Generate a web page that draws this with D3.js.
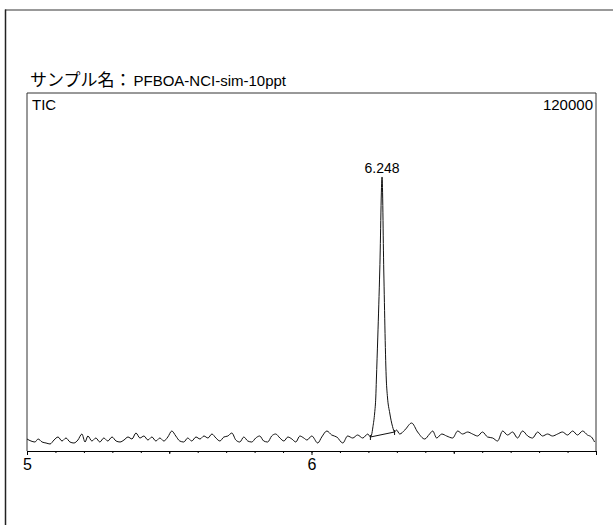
<!DOCTYPE html>
<html>
<head>
<meta charset="utf-8">
<script src="https://cdn.jsdelivr.net/npm/d3@7"></script>
<style>
  body { margin: 0; background: #fff; }
  svg { display: block; }
</style>
</head>
<body>
<svg></svg>
<script>
var width = 613;
var height = 525;

var sampleName = "PFBOA-NCI-sim-10ppt";
var traceLabel = "TIC";
var fullScale = 120000;
var peakTime = 6.248;

// retention time (min) and intensity
var times = [
  5.000, 5.014, 5.028, 5.039, 5.053, 5.067, 5.081, 5.095, 5.109, 5.123,
  5.137, 5.151, 5.165, 5.179, 5.193, 5.204, 5.214, 5.228, 5.242, 5.256,
  5.270, 5.284, 5.299, 5.313, 5.327, 5.341, 5.355, 5.369, 5.383, 5.397,
  5.411, 5.425, 5.439, 5.453, 5.467, 5.481, 5.495, 5.509, 5.523, 5.537,
  5.551, 5.565, 5.579, 5.594, 5.608, 5.622, 5.636, 5.650, 5.664, 5.678,
  5.692, 5.706, 5.720, 5.734, 5.748, 5.762, 5.776, 5.790, 5.804, 5.818,
  5.832, 5.846, 5.860, 5.874, 5.889, 5.903, 5.917, 5.931, 5.945, 5.959,
  5.973, 5.984, 6.001, 6.022, 6.036, 6.054, 6.071, 6.089, 6.110, 6.127,
  6.145, 6.162, 6.180, 6.198,
  6.207, 6.211, 6.216, 6.222, 6.226, 6.228, 6.233, 6.240, 6.248, 6.254,
  6.263, 6.267, 6.275, 6.285, 6.292,
  6.299, 6.310, 6.328, 6.352, 6.373, 6.398, 6.415, 6.426, 6.440, 6.458,
  6.475, 6.496, 6.514, 6.531, 6.549, 6.566, 6.584, 6.601, 6.619, 6.637,
  6.654, 6.672, 6.689, 6.707, 6.724, 6.742, 6.760, 6.777, 6.795, 6.812,
  6.830, 6.847, 6.865, 6.882, 6.900, 6.918, 6.935, 6.953, 6.970, 6.984,
  6.995
];

var intensity = [
  4020, 3350, 3015, 4020, 3015, 2680, 2350, 3685, 4690, 3350,
  4355, 3015, 2680, 3685, 5695, 3015, 5025, 3350, 4355, 3015,
  4355, 3350, 4690, 3350, 3015, 3685, 4690, 4020, 6030, 4355,
  5025, 3685, 4690, 3350, 4355, 3350, 4690, 6700, 5025, 3350,
  3015, 4355, 3350, 4690, 4020, 5025, 4355, 5695, 4355, 3350,
  4690, 5025, 6030, 3685, 3015, 4690, 3350, 3015, 4355, 5025,
  3350, 3015, 5025, 5695, 4355, 3350, 4690, 4020, 3015, 5025,
  4355, 3685, 5025, 2680, 4690, 6700, 5360, 4690, 2680, 5025,
  4355, 5360, 4355, 5695,
  4690, 5360, 8150, 12740, 18100, 23800, 38200, 60670, 91850, 60670,
  23800, 18100, 12740, 8150, 6370,
  7035, 5695, 7035, 9380, 6365, 4020, 5695, 6700, 4355, 5695,
  5025, 4355, 6700, 5695, 6365, 5695, 5025, 6365, 4690, 4355,
  3350, 6700, 5360, 6365, 4355, 6700, 5025, 4355, 6365, 5025,
  5695, 5025, 5695, 6365, 5360, 6700, 5360, 6700, 5360, 4690,
  3015
];

// integration baseline under the peak
var baseStart = [6.207, 4690];
var baseEnd = [6.292, 6370];

var majorTicks = [5, 6, 7];
var halfTicks = [5.5, 6.5];
var minorTicks = d3.range(50, 71).map(d => d / 10);

var latin = "Liberation Sans, Arial, sans-serif";

var svg = d3.select("svg")
  .attr("width", width)
  .attr("height", height);

var xScale = d3.scaleLinear()
  .domain([5, 7])
  .range([27, 596]);

var yScale = d3.scaleLinear()
  .domain([0, fullScale])
  .range([451, 93]);

// page frame
svg.append("line")
  .attr("x1", 5).attr("x2", width)
  .attr("y1", 10).attr("y2", 10)
  .attr("stroke", "#777")
  .attr("stroke-width", 1.5);

svg.append("line")
  .attr("x1", 5.5).attr("x2", 5.5)
  .attr("y1", 9.5).attr("y2", height)
  .attr("stroke", "#222")
  .attr("stroke-width", 1.5);

// title
var title = svg.append("text")
  .attr("x", 30)
  .attr("y", 86)
  .attr("font-family", latin)
  .attr("font-size", 15)
  .attr("fill", "#000");
title.append("tspan")
  .attr("font-family", "Noto Sans CJK JP")
  .attr("font-size", 17)
  .text("サンプル名：");
title.append("tspan")
  .attr("dx", 2)
  .text(sampleName);

// plot frame
svg.append("path")
  .attr("d", "M" + xScale(5) + "," + yScale(0) + "V" + yScale(fullScale) +
    "H" + xScale(7) + "V" + yScale(0))
  .attr("fill", "none")
  .attr("stroke", "#333")
  .attr("stroke-width", 1);

svg.append("text")
  .attr("x", xScale(5) + 5)
  .attr("y", 110)
  .attr("font-family", latin)
  .attr("font-size", 15)
  .text(traceLabel);

svg.append("text")
  .attr("x", xScale(7) - 3)
  .attr("y", 110)
  .attr("text-anchor", "end")
  .attr("font-family", latin)
  .attr("font-size", 15)
  .text(d3.format("d")(fullScale));

// axes
function addAxis(values, size, labels) {
  var g = svg.append("g")
    .attr("transform", "translate(0," + yScale(0) + ")")
    .call(d3.axisBottom(xScale)
      .tickValues(values)
      .tickSize(size)
      .tickSizeOuter(0)
      .tickPadding(4)
      .tickFormat(d => labels && d < 7 ? d3.format("d")(d) : ""));
  g.select(".domain").attr("stroke", "#000");
  g.selectAll(".tick line").attr("stroke", "#000");
  g.selectAll(".tick text")
    .attr("font-family", latin)
    .attr("font-size", 16)
    .attr("fill", "#000");
  return g;
}
addAxis(minorTicks, 2, false);
addAxis(halfTicks, 3, false).select(".domain").remove();
addAxis(majorTicks, 4, true).select(".domain").remove();

// trace
var points = times.map((t, i) => [t, intensity[i]]);

var line = d3.line()
  .x(d => xScale(d[0]))
  .y(d => yScale(d[1]))
  .curve(d3.curveMonotoneX);

svg.append("path")
  .datum(points)
  .attr("d", line)
  .attr("fill", "none")
  .attr("stroke", "#111")
  .attr("stroke-width", 1)
  .attr("stroke-linejoin", "round");

svg.append("path")
  .datum([baseStart, baseEnd])
  .attr("d", line.curve(d3.curveLinear))
  .attr("fill", "none")
  .attr("stroke", "#111")
  .attr("stroke-width", 1);

svg.selectAll(".basemark")
  .data([baseStart, baseEnd])
  .enter()
  .append("line")
    .attr("x1", d => xScale(d[0]))
    .attr("x2", d => xScale(d[0]))
    .attr("y1", d => yScale(d[1]) - 2)
    .attr("y2", d => yScale(d[1]) + 3)
    .attr("stroke", "#111");

// peak label
svg.append("text")
  .attr("x", xScale(peakTime))
  .attr("y", 173)
  .attr("text-anchor", "middle")
  .attr("font-family", latin)
  .attr("font-size", 14)
  .text(d3.format(".3f")(peakTime));
</script>
</body>
</html>
